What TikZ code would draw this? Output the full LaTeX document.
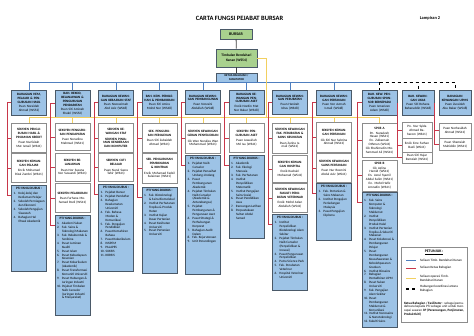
\documentclass[tikz,border=0pt]{standalone}
\usepackage{fontspec}
\setmainfont{Carlito}
\usepackage{tikz}
\usetikzlibrary{positioning}

\definecolor{birumuda}{HTML}{9DC3E6}
\definecolor{hijau}{HTML}{A9D18E}
\definecolor{bingkai}{HTML}{4A5968}
\definecolor{kelabu}{HTML}{8C8C8C}
\definecolor{merahg}{HTML}{C8374A}
\definecolor{kuningg}{HTML}{F2D060}
\definecolor{birug}{HTML}{4F7FBF}

\newcommand{\kecil}{\fontsize{3.3}{3.9}\selectfont}
\newcommand{\itm}[2]{\par\hangindent=5pt\hangafter=1\noindent\makebox[5pt][l]{#1.}#2}
\newcommand{\ptjisi}[2]{\parbox[c][#1pt][t]{31pt}{\raggedright{\centering\textbf{PTJ YANG DIURUS :}\par}\vspace{1.5pt}#2}}

\tikzset{
  atasan/.style={draw=bingkai,fill=hijau,line width=.7pt,inner sep=1pt,align=center},
  ketua/.style={draw=bingkai,fill=birumuda,line width=.7pt,inner sep=1pt,align=center,minimum width=41,minimum height=9,font=\fontsize{2.9}{3.3}\selectfont\bfseries},
  bahagian/.style={draw=bingkai,fill=birumuda,line width=.6pt,inner sep=2pt,text width=31pt,align=center,anchor=north,font=\kecil},
  seksyen/.style={draw=kelabu,fill=white,line width=1pt,inner sep=2pt,text width=31pt,align=center,anchor=north,font=\kecil},
  kotakkecil/.style={draw=kelabu,fill=white,line width=.6pt,inner sep=1.5pt,text width=27pt,align=center,anchor=north,font=\kecil},
  ptj/.style={draw=bingkai,fill=birumuda,line width=.6pt,inner sep=2pt,anchor=north,font=\kecil},
  garisgelap/.style={draw=black!75,line width=.8pt},
  garisbiru/.style={draw=birug,line width=.8pt},
  garismerah/.style={draw=merahg,line width=.8pt},
  gariskuning/.style={draw=kuningg,line width=1pt},
  garisputus/.style={draw=black,line width=.8pt,dashed},
}

\begin{document}
\begin{tikzpicture}[x=1pt,y=-1pt]
\useasboundingbox (0,0) rectangle (474,335);
%
% tajuk
\node[font=\fontsize{6.5}{7}\selectfont\bfseries] (judul) at (239.5,18) {CARTA FUNGSI PEJABAT BURSAR};
\node[font=\fontsize{4.4}{5}\selectfont\bfseries] (lampiran) at (430,18) {Lampiran 2};
%
% pengurusan
\node[atasan,minimum width=32,minimum height=10,font=\fontsize{4}{5}\selectfont\bfseries] (bursar) at (236,34) {BURSAR};
\node[atasan,minimum width=41,minimum height=18,font=\fontsize{3.6}{4.4}\selectfont\bfseries] (tbk) at (236.5,58) {Timbalan Bendahari\\Kanan (WS54)};
\node[ketua] (kb) at (236.5,77.5) {KETUA BAHAGIAN /\\FASILITATOR};
\coordinate (ypusat) at (266,117);
%
% bahagian
\node[bahagian,minimum height=25] (t1) at (29,90) {\textbf{BAHAGIAN HEM, PELAJAR \& PENGURUSAN HASIL}\\[.5pt]Puan Noraidah Ahmad (WS52)};
\node[bahagian,minimum height=26] (t2) at (72.5,90) {\textbf{BAH. REKOD, BELANJAWAN \& PENGURUSAN PENDAPATAN}\\[.5pt]Puan Siti Aminah Shukri (WS52)};
\node[bahagian,minimum height=25] (t3) at (116,90) {\textbf{BAHAGIAN KEWANGAN KEBAJIKAN STAF}\\[.5pt]Puan Noorazimah Abd Aziz (WS48)};
\node[bahagian,minimum height=25] (t4) at (159.5,90) {\textbf{BAH. KEW. PEROLEHAN \& PEMBAYARAN}\\[.5pt]Puan Siti Amira Mohd Nor (WS48)};
\node[bahagian,minimum height=24] (t5) at (203,90) {\textbf{BAHAGIAN KEWANGAN PEMBANGUNAN}\\[.5pt]Puan Norzaini Abdullah (WS48)};
\node[bahagian,minimum height=24] (t6) at (246.5,90) {\textbf{BAHAGIAN KEWANGAN PENGURUSAN ASET}\\[.5pt]Encik Nordin Mat Nor Bakar (WS48)};
\node[bahagian,minimum height=24] (t7) at (290,90) {\textbf{BAHAGIAN KEWANGAN PERUBATAN}\\[.5pt]Puan Hanizah Idrus (WS48)};
\node[bahagian,minimum height=25] (t8) at (334,90) {\textbf{BAHAGIAN KEWANGAN PERTANIAN}\\[.5pt]Puan Nor Azmah Ismail (WS48)};
\node[bahagian,minimum height=25] (t9) at (379.5,90) {\textbf{BAH. KEW. PENGURUSAN SPONSOR BERSEPADU}\\[.5pt]Puan Ismarizan Adam (WS48)};
\node[bahagian,minimum height=25,text width=28pt] (t10) at (418,90) {\textbf{BAH. KEWANGAN UKAS}\\[.5pt]Puan Siti Rohana Baharuddin (WS48)};
\node[bahagian,minimum height=25,text width=28pt] (t11) at (455,90) {\textbf{BAHAGIAN KEWANGAN UPMS}\\[.5pt]Puan Zuraidah Abu Bakar (WS48)};
%
% seksyen
\node[seksyen,minimum height=29] (s11) at (29,123) {\textbf{SEKSYEN PENGURUSAN HASIL \& PINJAMAN KREDIT}\\[1.5pt]Puan Nurfaizah Mat Ismail (WS41)};
\node[seksyen,minimum height=29] (s12) at (29,153) {\textbf{SEKSYEN KEWANGAN PELAJAR}\\[1.5pt]Encik Mohamad Rizal Zambri (WS41)};
\node[seksyen,minimum height=27] (s21) at (72.5,123) {\textbf{SEKSYEN PENGURUSAN PENDAPATAN}\\[1.5pt]Puan Norazlina Mahmud (WS41)};
\node[seksyen,minimum height=28] (s22) at (72.5,153) {\textbf{SEKSYEN BELANJAWAN}\\[1.5pt]Puan Nor Suzana Nor Suwandi (WS41)};
\node[seksyen,minimum height=29] (s23) at (72.5,183) {\textbf{SEKSYEN PELABURAN}\\[1.5pt]Puan Farhana Mohamad Rozli (WS41)};
\node[seksyen,minimum height=29] (s31) at (116,123) {\textbf{SEKSYEN KEWANGAN STAF}\\[2pt]\textbf{SEKSYEN PINJAMAN KENDERAAN DAN KOMPUTER}};
\node[seksyen,minimum height=28] (s32) at (116,153) {\textbf{SEKSYEN CUTI BELAJAR}\\[1.5pt]Puan Nurul Saera Tahir (WS41)};
\node[seksyen,minimum height=29] (s41) at (159.5,123) {\textbf{SEK. PENGURUSAN PEROLEHAN}\\[1.5pt]Puan Siti Zubaidah Ahmad (WS41)};
\node[seksyen,minimum height=30] (s42) at (159.5,153) {\textbf{SEK. PENGURUSAN PEMBAYARAN \& KONTRAK}\\[1.5pt]Encik Mohamad Fadzil Sulaiman (WS41)};
\node[seksyen,minimum height=30] (s51) at (203,123) {\textbf{SEKSYEN KEWANGAN GERAN PENYELIDIKAN}\\[1.5pt]Cik Wan Noraliza Wan Mohammad (WS41)};
\node[seksyen,minimum height=29] (s61) at (246.5,123) {\textbf{SEKSYEN PENGURUSAN ASET}\\[1.5pt]Puan Juwairiah Md Isa (WS41)};
\node[seksyen,minimum height=30] (s71) at (290,123) {\textbf{SEKSYEN KEWANGAN FAK. PERUBATAN \& SAINS KESIHATAN}\\[1.5pt]Puan Zarina Ismail (WS41)};
\node[seksyen,minimum height=27] (s72) at (290,155) {\textbf{SEKSYEN KEWANGAN HOSPITAL}\\[1.5pt]Encik Kushairi Mohamad (WS41)};
\node[seksyen,minimum height=29] (s73) at (290,183) {\textbf{SEKSYEN KEWANGAN FAKULTI PERUBATAN VETERINAR}\\[1.5pt]Encik Mohd Azlan Abdullah (WS41)};
\node[seksyen,minimum height=30] (s81) at (334,122) {\textbf{SEKSYEN KEWANGAN PERTANIAN}\\[1.5pt]Cik Siti Nur Sabrina Ahmad (WS41)};
\node[seksyen,minimum height=29] (s82) at (334,153) {\textbf{SEKSYEN KEWANGAN SAINS PERTANIAN}\\[1.5pt]Puan Nur Rosmini Abdul Aziz (WS41)};
\node[seksyen,minimum height=34] (s91) at (379.5,123) {\textbf{SPCB A}\\[1pt]Pn. Nurazizah Hasan (WS41)\\En. Zulkarnain Othman (WS41)\\Cik Shahirrudin Mohammad Ali (WS41)};
\node[seksyen,minimum height=29] (s92) at (379.5,160) {\textbf{SPCB B}\\[.5pt]Cik Azlina Hamid (WS41)\\En. Azrul Syamil Abdul Salim (WS41)\\En. Mohd Hafiz Amrudin (WS41)};
\node[kotakkecil,minimum height=16] (s101) at (417,122) {Pn. Nur Syida Ahmad Baharom (WS41)};
\node[kotakkecil,minimum height=14] (s102) at (417,138) {Encik Ezre Farhan Bazli (WS41)};
\node[kotakkecil,minimum height=11] (s103) at (417,152) {Puan Siti Hajar Ramziah (WS41)};
\node[kotakkecil,minimum height=15,text width=29pt] (s111) at (455,123) {Puan Norhasidah Ahmad (WS41)};
\node[kotakkecil,minimum height=12,text width=29pt] (s112) at (455,138) {Puan Shamsiah Muhiddin (WS41)};
%
% ptj yang diurus
\node[ptj] (p1) at (29,185) {\ptjisi{82}{\itm{1}{Kolej-kolej dan Kediaman Pelajar}\itm{2}{Sekolah Perniagaan dan Ekonomi}\itm{3}{Sekolah Pengajian Siswazah}\itm{4}{Bahagian Hal Ehwal Akademik}}};
\node[ptj] (p2) at (72.5,215) {\ptjisi{96}{\itm{1}{Akademi Sukan}\itm{2}{Fak. Sains \& Teknologi Makanan}\itm{3}{Fak. Rekabentuk \& Senibina}\itm{4}{Pusat Jaminan Kualiti}\itm{5}{Pusat Islam}\itm{6}{Pusat Kebudayaan Kesenian}\itm{7}{Pusat Kokurikulum (Akademik)}\itm{8}{Pusat Transformasi Komuniti Universiti}\itm{9}{Pusat Hubungan \& Jaringan Industri}\itm{10}{Pejabat Timbalan Naib Canselor (Jaringan Industri \& Masyarakat)}}};
\node[ptj] (p3) at (116,184) {\ptjisi{83}{\itm{1}{Pejabat Bursar}\itm{2}{Pejabat Pendaftar}\itm{3}{Bahagian Keselamatan Universiti}\itm{4}{Fak. Bahasa Moden \& Komunikasi}\itm{5}{Fak. Pengajian Pendidikan}\itm{6}{Pusat Kemahiran Bahasa}\itm{7}{Pusat Kokurikulum}\itm{8}{INSPEM}\itm{9}{PALAPES}\itm{10}{SUKSIS}\itm{11}{KORSIS}}};
\node[ptj] (p4) at (159.5,187) {\ptjisi{82}{\itm{1}{Fak. Bioteknologi \& Sains Biomolekul}\itm{2}{Institut Perhutanan Tropika \& Produk Hutan}\itm{3}{Institut Kajian Dasar Pertanian}\itm{4}{Pusat Kesihatan Universiti}\itm{5}{Pusat Pertanian Universiti}}};
\node[ptj] (p5) at (203,155) {\ptjisi{115}{\itm{1}{Pejabat Naib Canselor}\itm{2}{Pejabat Penasihat Undang-Undang}\itm{3}{Pusat Pembangunan Akademik}\itm{4}{Pejabat Timbalan Naib Canselor (Akademik \& Antarabangsa)}\itm{5}{Pejabat Pembangunan \& Pengurusan Aset}\itm{6}{Pusat Strategi \& Perhubungan Korporat}\itm{7}{Bahagian Audit Dalam}\itm{8}{Fak. Kejuruteraan}\itm{9}{Unit Perundingan}}};
\node[ptj] (p6) at (246.5,155) {\ptjisi{79}{\itm{1}{Akademik}\itm{2}{Fak. Ekologi Manusia}\itm{3}{Fak. Perhutanan}\itm{4}{Institut Penyelidikan Matematik}\itm{5}{Institut Pengajian Sains Sosial}\itm{6}{Pusat Pendidikan Asas}\itm{7}{Rancangan Latihan}\itm{8}{Perpustakaan Sultan Abdul Samad}}};
\node[ptj] (p7) at (290,214) {\ptjisi{72}{\itm{1}{Institut Penyelidikan Bioteknologi Alam Sekitar}\itm{2}{Pejabat Timbalan Naib Canselor (Penyelidikan \& Inovasi)}\itm{3}{Pusat Pengurusan Penyelidikan}\itm{4}{Putra Science Park}\itm{5}{Fak. Perubatan Veterinar}\itm{6}{Hospital Veterinar Universiti}}};
\node[ptj] (p8) at (334,183) {\ptjisi{53}{\itm{1}{Fak. Pertanian \& Sains Makanan}\itm{2}{Institut Pengajian Perladangan Malaysia}\itm{3}{Pusat Pengajian Diploma}}};
\node[ptj] (p9) at (379.5,192) {\ptjisi{131}{\itm{1}{Fak. Sains Komputer \& Teknologi Maklumat}\itm{2}{Institut Penyelidikan Produk Halal}\itm{3}{Institut Pertanian Tropika \& Sekuriti Makanan}\itm{4}{Pusat Kolaborasi \& Pembangunan Pelajar}\itm{5}{Pusat Pembangunan Keusahawanan \& Kebolehpasaran Graduan}\itm{6}{Institut Biosains}\itm{7}{Bahagian Pentadbiran UPM}\itm{8}{Pusat Sukan Universiti}\itm{9}{Fak. Pengajian Alam Sekitar}\itm{10}{Pusat Pembangunan Maklumat \& Komunikasi}\itm{11}{Institut Nanosains \& Nanoteknologi}\itm{12}{Fakulti Sains}}};
%
% garis seliaan
\draw[garisgelap] (bursar) -- (tbk);
\draw[garisgelap] (tbk) -- (kb);
\foreach \i in {1,...,8}
\draw[garisbiru] (kb.south) -| (t\i.north);
\draw[garisbiru] (kb.south) -- (kb.south -| t9.north);
\foreach \i in {9,10,11}
\draw[garisputus] (kb.south -| t9.north) -| (t\i.north);
%
\draw[gariskuning] (tbk.east) -| (ypusat);
\foreach \s in {11,21,31,41,51,61,71,81,91}
\draw[gariskuning] (ypusat) -| (s\s.north);
%
\foreach \i in {1,...,9}
\draw[garismerah] (t\i.west) -- ++(-4,0) |- ([yshift=-10pt]p\i.north west);
\foreach \t/\s in {1/11,1/12,2/21,2/22,2/23,3/31,3/32,4/41,4/42,5/51,6/61,7/71,7/72,7/73,8/81,8/82,9/91,9/92,10/101,10/102,10/103,11/111,11/112}
\draw[garismerah] (t\t.west) ++(-4,0) |- (s\s.west);
%
% petunjuk
\node[draw=kelabu,line width=.8pt,minimum width=66,minimum height=75,anchor=north] (petunjuk) at (434,247) {};
\node[font=\fontsize{3.8}{4}\selectfont\bfseries] (pjudul) at (434,252.5) {\underline{PETUNJUK :}};
\draw[garisbiru] (406,260) -- (416,260);
\node[font=\kecil,anchor=west,inner sep=0pt] (l1) at (420,260) {Seliaan Timb. Bendahari Kanan};
\draw[garismerah] (406,268) -- (416,268);
\node[font=\kecil,anchor=west,inner sep=0pt] (l2) at (420,268) {Seliaan Ketua Bahagian};
\draw[gariskuning] (406,278) -- (416,278);
\node[font=\kecil,anchor=west,inner sep=0pt,align=left] (l3) at (420,278) {Seliaan operasi Timb.\\Bendahari Kanan};
\draw[garisputus,line width=1.1pt] (406,289) -- (416,289);
\node[font=\kecil,anchor=west,inner sep=0pt,align=left] (l4) at (420,289) {Hubungan koordinasi antara\\Bahagian};
\node[font=\kecil,text width=60pt,align=justify,inner sep=0pt] (nota) at (434,309) {\textbf{Ketua Bahagian / Fasilitator} : sebagai pemudahcara kepada PTJ sebagai unit untuk mencapai sasaran \textbf{3P (Perancangan, Penjimatan, Produktiviti)}};
\end{tikzpicture}
\end{document}
